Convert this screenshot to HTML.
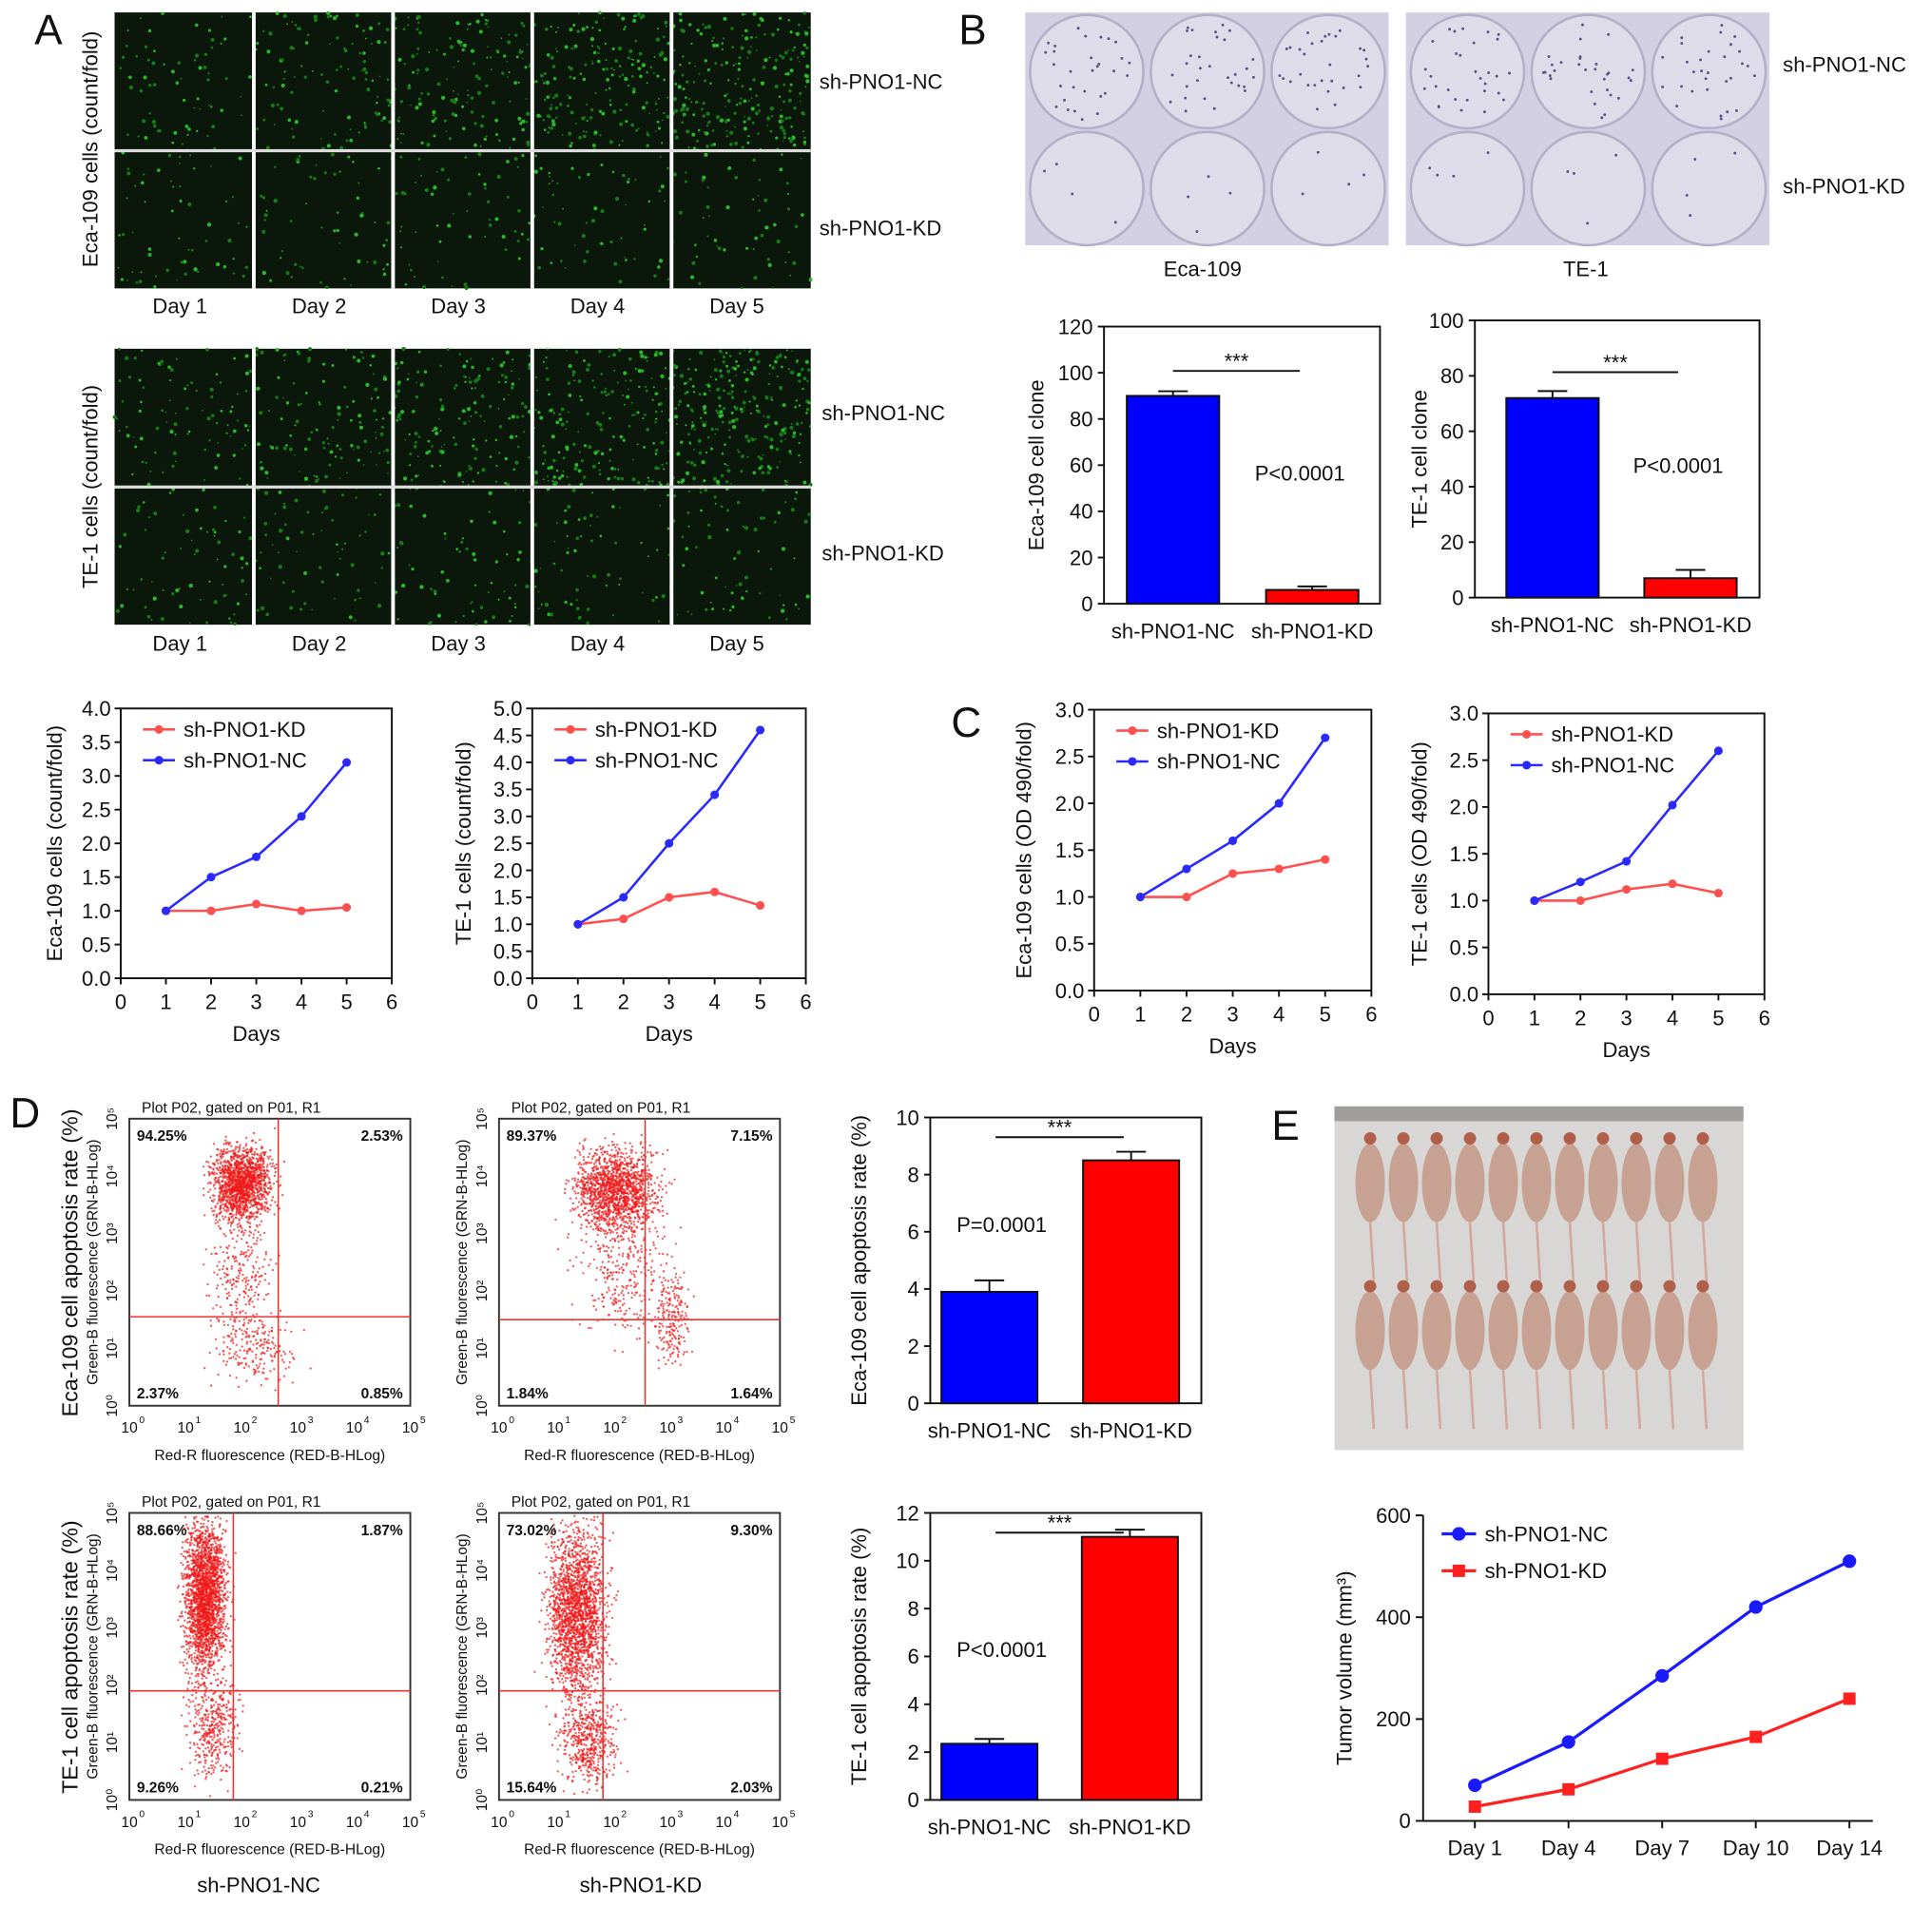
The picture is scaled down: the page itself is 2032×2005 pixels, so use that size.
<!DOCTYPE html>
<html><head><meta charset="utf-8">
<style>
html,body{margin:0;padding:0;background:#fff;}
svg{display:block;font-family:"Liberation Sans",Arial,sans-serif;}
</style></head>
<body>
<svg id="fig" width="2032" height="2005" viewBox="0 0 1568 1547" xmlns="http://www.w3.org/2000/svg"></svg>
<script>
// ---- data arrays ----
const growthDays = [1,2,3,4,5];
const ecaCountKD = [1,1,1.1,1,1.05];
const ecaCountNC = [1,1.5,1.8,2.4,3.2];
const teCountKD = [1,1.1,1.5,1.6,1.35];
const teCountNC = [1,1.5,2.5,3.4,4.6];
const ecaOdKD = [1,1,1.25,1.3,1.4];
const ecaOdNC = [1,1.3,1.6,2.0,2.7];
const teOdKD = [1,1,1.12,1.18,1.08];
const teOdNC = [1,1.2,1.42,2.02,2.6];
const groups = ["sh-PNO1-NC","sh-PNO1-KD"];
const ecaClone = [90,6];
const ecaCloneErr = [2,1.5];
const teClone = [72,7];
const teCloneErr = [2.5,3];
const ecaApop = [3.9,8.5];
const ecaApopErr = [0.4,0.3];
const teApop = [2.35,11];
const teApopErr = [0.2,0.3];
const tumorDays = ["Day 1","Day 4","Day 7","Day 10","Day 14"];
const tumorNC = [70,155,285,420,510];
const tumorKD = [28,62,122,165,240];
const quadEca = [["94.25%","2.53%","2.37%","0.85%"],["89.37%","7.15%","1.84%","1.64%"]];
const quadTe = [["88.66%","1.87%","9.26%","0.21%"],["73.02%","9.30%","15.64%","2.03%"]];

const NS="http://www.w3.org/2000/svg";
const svg=document.getElementById('fig');
function mk(tag,attrs,name,parent){
  const el=document.createElementNS(NS,tag);
  for(const k in attrs) el.setAttribute(k,attrs[k]);
  
  
  (parent||svg).appendChild(el);
  return el;
}
function txt(x,y,s,size,name,extra,parent){
  const a=Object.assign({x:x,y:y,'font-size':size,fill:'#111'},extra||{});
  const t=mk('text',a,name,parent);t.textContent=s;return t;
}
function vtxt(x,y,s,size,name){
  return txt(x,y,s,size,name,{'text-anchor':'middle',transform:`rotate(-90 ${x} ${y})`});
}
let seed=12345;function rnd(){seed=(seed*1103515245+12345)%2147483648;return seed/2147483648;}
function gauss(){return (rnd()+rnd()+rnd()+rnd()-2)/0.8;}

[["A",28,36],["B",778,36],["C",772,598],["D",8,915],["E",1032,925]].forEach(p=>{
  txt(p[1],p[2],p[0],34,'panel-label-'+p[0].toLowerCase());
});

function micro(x0,y0,gname,dens){
  const g=mk('g',{},gname);
  mk('rect',{x:x0,y:y0,width:565,height:224,fill:'#0b170b'},gname+'-bg',g);
  for(let r=0;r<2;r++)for(let c=0;c<5;c++){
    const cx=x0+c*113,cy=y0+r*112;
    const n=dens[r][c];
    for(let i=0;i<n;i++){
      mk('circle',{cx:cx+rnd()*113,cy:cy+rnd()*112,r:0.6+rnd()*1.1,fill:rnd()<0.4?'#28b828':'#167a16'},'cell-dot',g);
    }
  }
  for(let c=1;c<5;c++) mk('rect',{x:x0+c*113-1.5,y:y0,width:3,height:224,fill:'#fff'},'grid-divider',g);
  mk('rect',{x:x0,y:y0+111,width:565,height:2.5,fill:'#ddd'},'grid-divider',g);
}
micro(93,10,'eca-micrographs',[[70,110,150,190,230],[60,60,60,60,60]]);
micro(93,283,'te-micrographs',[[90,120,160,190,260],[70,70,70,70,70]]);
['Day 1','Day 2','Day 3','Day 4','Day 5'].forEach((d,i)=>{
  txt(146+i*113,254,d,17,'day-label',{'text-anchor':'middle'});
  txt(146+i*113,528,d,17,'day-label',{'text-anchor':'middle'});
});
txt(665,72,'sh-PNO1-NC',17,'row-label-nc');txt(665,191,'sh-PNO1-KD',17,'row-label-kd');
txt(667,341,'sh-PNO1-NC',17,'row-label-nc');txt(667,455,'sh-PNO1-KD',17,'row-label-kd');
vtxt(79,121,'Eca-109 cells (count/fold)',17,'y-axis-title');
vtxt(79,395,'TE-1 cells (count/fold)',17,'y-axis-title');

function plate(x0,name){
  const g=mk('g',{},name);
  mk('rect',{x:x0,y:10,width:295,height:189,fill:'#d3d0e3'},name+'-bg',g);
  for(let r=0;r<2;r++)for(let c=0;c<3;c++){
    const cx=x0+50+c*98,cy=58+r*95;
    mk('circle',{cx:cx,cy:cy,r:46,fill:'#dfdcea',stroke:'#b3afc8','stroke-width':2},'well',g);
    const n=r===0?30:4;
    for(let i=0;i<n;i++){const a=rnd()*6.28,rr=Math.sqrt(rnd())*40;
      mk('circle',{cx:cx+rr*Math.cos(a),cy:cy+rr*Math.sin(a),r:1.1,fill:'#5a4d8a'},'colony',g);}
  }
}
plate(832,'eca-plate');plate(1141,'te-plate');
txt(976,224,'Eca-109',17,'plate-label',{'text-anchor':'middle'});
txt(1287,224,'TE-1',17,'plate-label',{'text-anchor':'middle'});
txt(1447,58,'sh-PNO1-NC',17,'row-label-nc');txt(1447,157,'sh-PNO1-KD',17,'row-label-kd');

function barChart(o){
  const g=mk('g',{},o.name);
  const y=v=>o.y1-(v/o.max)*(o.y1-o.y0);
  mk('rect',{x:o.x0,y:o.y0,width:o.x1-o.x0,height:o.y1-o.y0,fill:'none',stroke:'#111','stroke-width':1.5},'plot-frame',g);
  for(let v=0;v<=o.max;v+=o.step){
    mk('line',{x1:o.x0-5,x2:o.x0,y1:y(v),y2:y(v),stroke:'#111','stroke-width':1.5},'y-tick',g);
    txt(o.x0-9,y(v)+6,String(v),17,'y-tick-label',{'text-anchor':'end'},g);
  }
  const cols=['#0000ff','#ff0000'];
  o.vals.forEach((v,i)=>{
    const cx=o.cx[i];
    mk('line',{x1:cx,x2:cx,y1:y(v+o.err[i]),y2:y(v),stroke:'#111','stroke-width':1.5},'error-bar',g);
    mk('line',{x1:cx-12,x2:cx+12,y1:y(v+o.err[i]),y2:y(v+o.err[i]),stroke:'#111','stroke-width':1.5},'error-cap',g);
    mk('rect',{x:cx-o.bw/2,y:y(v),width:o.bw,height:o.y1-y(v),fill:cols[i],stroke:'#111','stroke-width':1.5},'bar-'+(i?'kd':'nc'),g);
    txt(cx,o.y1+28,groups[i],17,'x-tick-label',{'text-anchor':'middle'},g);
  });
  mk('line',{x1:o.sig[0],x2:o.sig[1],y1:o.sig[2],y2:o.sig[2],stroke:'#111','stroke-width':1.5},'significance-line',g);
  txt((o.sig[0]+o.sig[1])/2,o.sig[2]-2,'***',17,'significance-stars',{'text-anchor':'middle'},g);
  txt(o.p[0],o.p[1],o.ptxt,17,'p-value',{'text-anchor':'middle'},g);
  vtxt(o.ylx,(o.y0+o.y1)/2,o.ylabel,17,'y-axis-title');
}
barChart({name:'eca-clone-chart',x0:896,x1:1120,y0:265,y1:490,max:120,step:20,vals:ecaClone,err:ecaCloneErr,cx:[952,1065],bw:75,sig:[952,1055,301],p:[1055,390],ptxt:'P<0.0001',ylabel:'Eca-109 cell clone',ylx:847});
barChart({name:'te-clone-chart',x0:1197,x1:1428,y0:260,y1:485,max:100,step:20,vals:teClone,err:teCloneErr,cx:[1260,1372],bw:75,sig:[1260,1362,302],p:[1362,384],ptxt:'P<0.0001',ylabel:'TE-1 cell clone',ylx:1158});
barChart({name:'eca-apoptosis-chart',x0:755,x1:975,y0:907,y1:1139,max:10,step:2,vals:ecaApop,err:ecaApopErr,cx:[803,918],bw:78,sig:[808,912,923],p:[813,1000],ptxt:'P=0.0001',ylabel:'Eca-109 cell apoptosis rate (%)',ylx:703});
barChart({name:'te-apoptosis-chart',x0:755,x1:975,y0:1228,y1:1461,max:12,step:2,vals:teApop,err:teApopErr,cx:[803,917],bw:78,sig:[808,912,1244],p:[813,1345],ptxt:'P<0.0001',ylabel:'TE-1 cell apoptosis rate (%)',ylx:703});

function lineChart(o){
  const g=mk('g',{},o.name);
  const x=v=>o.x0+v/6*(o.x1-o.x0);
  const y=v=>o.y1-(v/o.max)*(o.y1-o.y0);
  mk('rect',{x:o.x0,y:o.y0,width:o.x1-o.x0,height:o.y1-o.y0,fill:'none',stroke:'#111','stroke-width':1.5},'plot-frame',g);
  for(let v=0;v<=o.max+1e-9;v+=0.5){
    mk('line',{x1:o.x0-5,x2:o.x0,y1:y(v),y2:y(v),stroke:'#111','stroke-width':1.5},'y-tick',g);
    txt(o.x0-8,y(v)+6,v.toFixed(1),17,'y-tick-label',{'text-anchor':'end'},g);
  }
  for(let d=0;d<=6;d++){
    mk('line',{x1:x(d),x2:x(d),y1:o.y1,y2:o.y1+5,stroke:'#111','stroke-width':1.5},'x-tick',g);
    txt(x(d),o.y1+25,String(d),17,'x-tick-label',{'text-anchor':'middle'},g);
  }
  txt((o.x0+o.x1)/2,o.y1+51,'Days',17,'x-axis-title',{'text-anchor':'middle'},g);
  vtxt(o.ylx,(o.y0+o.y1)/2,o.ylabel,17,'y-axis-title');
  [[o.kd,'#ff5050','kd'],[o.nc,'#2a2aff','nc']].forEach(s=>{
    mk('polyline',{points:growthDays.map((d,i)=>x(d)+','+y(s[0][i])).join(' '),fill:'none',stroke:s[1],'stroke-width':2},'line-'+s[2],g);
    growthDays.forEach((d,i)=>mk('circle',{cx:x(d),cy:y(s[0][i]),r:3.5,fill:s[1]},'point-'+s[2],g));
  });
  [['sh-PNO1-KD','#ff5050',0],['sh-PNO1-NC','#2a2aff',1]].forEach(l=>{
    const ly=o.y0+17+l[2]*25;
    mk('line',{x1:o.x0+18,x2:o.x0+44,y1:ly,y2:ly,stroke:l[1],'stroke-width':2},'legend-line',g);
    mk('circle',{cx:o.x0+31,cy:ly,r:3.5,fill:l[1]},'legend-marker',g);
    txt(o.x0+51,ly+6,l[0],17,'legend-entry',{},g);
  });
}
lineChart({name:'eca-count-chart',x0:98,x1:318,y0:575,y1:794,max:4,kd:ecaCountKD,nc:ecaCountNC,ylabel:'Eca-109 cells (count/fold)',ylx:50});
lineChart({name:'te-count-chart',x0:432,x1:654,y0:575,y1:794,max:5,kd:teCountKD,nc:teCountNC,ylabel:'TE-1 cells (count/fold)',ylx:382});
lineChart({name:'eca-od-chart',x0:888,x1:1113,y0:576,y1:804,max:3,kd:ecaOdKD,nc:ecaOdNC,ylabel:'Eca-109 cells (OD 490/fold)',ylx:837});
lineChart({name:'te-od-chart',x0:1208,x1:1432,y0:579,y1:807,max:3,kd:teOdKD,nc:teOdNC,ylabel:'TE-1 cells (OD 490/fold)',ylx:1158});

function flow(x0,y0,name,qs,qx,qy,clouds){
  const g=mk('g',{},name);
  const w=228,h=233;
  txt(x0+10,y0-5,'Plot P02, gated on P01, R1',12,'plot-title',{},g);
  mk('rect',{x:x0,y:y0,width:w,height:h,fill:'#fff',stroke:'#333','stroke-width':1.5},'plot-frame',g);
  clouds.forEach(c=>{for(let i=0;i<c[4];i++){
    const px=x0+c[0]*w+gauss()*c[2]*w, py=y0+c[1]*h+gauss()*c[3]*h;
    if(px>x0+2&&px<x0+w-2&&py>y0+2&&py<y0+h-2) mk('circle',{cx:px,cy:py,r:0.9,fill:'#f01818','fill-opacity':0.7},'event-dot',g);
  }});
  mk('line',{x1:x0+qx*w,x2:x0+qx*w,y1:y0,y2:y0+h,stroke:'#e33','stroke-width':1.2},'quadrant-line-v',g);
  mk('line',{x1:x0,x2:x0+w,y1:y0+qy*h,y2:y0+qy*h,stroke:'#e33','stroke-width':1.2},'quadrant-line-h',g);
  txt(x0+6,y0+18,qs[0],12,'quadrant-ul',{'font-weight':'bold'},g);
  txt(x0+w-6,y0+18,qs[1],12,'quadrant-ur',{'font-weight':'bold','text-anchor':'end'},g);
  txt(x0+6,y0+h-6,qs[2],12,'quadrant-ll',{'font-weight':'bold'},g);
  txt(x0+w-6,y0+h-6,qs[3],12,'quadrant-lr',{'font-weight':'bold','text-anchor':'end'},g);
  for(let k=0;k<=5;k++){
    const tx=x0+k*w/5, ty=y0+h-k*h/5;
    txt(tx,y0+h+22,'10',12,'x-tick-label',{'text-anchor':'middle'},g);
    txt(tx+8,y0+h+14,String(k),8,'x-tick-exp',{},g);
    vtxt(x0-10,ty,'10'+'\u2070\u00b9\u00b2\u00b3\u2074\u2075'[k],12,'y-tick-label');
  }
  txt(x0+w/2,y0+h+44,'Red-R fluorescence (RED-B-HLog)',12,'x-axis-title',{'text-anchor':'middle'},g);
  vtxt(x0-26,y0+h/2,'Green-B fluorescence (GRN-B-HLog)',12,'y-axis-title');
}
flow(105,908,'eca-flow-nc',quadEca[0],0.53,0.69,[[0.4,0.23,0.07,0.09,1500],[0.4,0.55,0.08,0.15,250],[0.45,0.8,0.1,0.08,200]]);
flow(405,908,'eca-flow-kd',quadEca[1],0.52,0.7,[[0.42,0.25,0.1,0.1,1500],[0.45,0.55,0.12,0.15,300],[0.62,0.7,0.04,0.1,200]]);
flow(105,1228,'te-flow-nc',quadTe[0],0.37,0.62,[[0.27,0.3,0.05,0.18,2200],[0.3,0.75,0.06,0.12,400]]);
flow(405,1228,'te-flow-kd',quadTe[1],0.37,0.62,[[0.28,0.35,0.07,0.2,2000],[0.32,0.8,0.07,0.1,500]]);
vtxt(63,1025,'Eca-109 cell apoptosis rate (%)',18,'y-axis-title');
vtxt(63,1345,'TE-1 cell apoptosis rate (%)',18,'y-axis-title');
txt(210,1536,'sh-PNO1-NC',17,'group-label',{'text-anchor':'middle'});
txt(520,1536,'sh-PNO1-KD',17,'group-label',{'text-anchor':'middle'});

(function(){
  const g=mk('g',{},'tumor-photo');
  mk('rect',{x:1083,y:898,width:332,height:279,fill:'#d9d7d5'},'photo-bg',g);
  mk('rect',{x:1083,y:898,width:332,height:12,fill:'#a09e9b'},'ruler',g);
  for(let r=0;r<2;r++)for(let i=0;i<11;i++){
    const cx=1112+i*27,cy=960+r*120;
    mk('ellipse',{cx:cx,cy:cy,rx:12,ry:32,fill:'#c7a192'},'mouse',g);
    mk('circle',{cx:cx,cy:cy-36,r:5,fill:'#b0604a'},'tumor',g);
    mk('line',{x1:cx,x2:cx+3,y1:cy+32,y2:cy+80,stroke:'#d4a89c','stroke-width':2},'tail',g);
  }
})();

(function(){
  const g=mk('g',{},'tumor-volume-chart');
  const x0=1155,x1=1520,y0=1230,y1=1478;
  const x=i=>1197+i*76;
  const y=v=>y1-v/600*(y1-y0);
  mk('line',{x1:x0,x2:x0,y1:y0,y2:y1,stroke:'#111','stroke-width':1.5},'y-axis',g);
  mk('line',{x1:x0,x2:x1,y1:y1,y2:y1,stroke:'#111','stroke-width':1.5},'x-axis',g);
  for(let v=0;v<=600;v+=200){
    mk('line',{x1:x0-6,x2:x0,y1:y(v),y2:y(v),stroke:'#111','stroke-width':1.5},'y-tick',g);
    txt(x0-10,y(v)+6,String(v),17,'y-tick-label',{'text-anchor':'end'},g);
  }
  tumorDays.forEach((d,i)=>{
    mk('line',{x1:x(i),x2:x(i),y1:y1,y2:y1+6,stroke:'#111','stroke-width':1.5},'x-tick',g);
    txt(x(i),y1+28,d,17,'x-tick-label',{'text-anchor':'middle'},g);
  });
  mk('polyline',{points:tumorNC.map((v,i)=>x(i)+','+y(v)).join(' '),fill:'none',stroke:'#1a1aff','stroke-width':2.5},'line-nc',g);
  tumorNC.forEach((v,i)=>mk('circle',{cx:x(i),cy:y(v),r:5.5,fill:'#1a1aff'},'point-nc',g));
  mk('polyline',{points:tumorKD.map((v,i)=>x(i)+','+y(v)).join(' '),fill:'none',stroke:'#ff2020','stroke-width':2.5},'line-kd',g);
  tumorKD.forEach((v,i)=>mk('rect',{x:x(i)-5,y:y(v)-5,width:10,height:10,fill:'#ff2020'},'point-kd',g));
  mk('line',{x1:1170,x2:1198,y1:1245,y2:1245,stroke:'#1a1aff','stroke-width':2.5},'legend-line',g);
  mk('circle',{cx:1184,cy:1245,r:5.5,fill:'#1a1aff'},'legend-marker',g);
  txt(1205,1251,'sh-PNO1-NC',17,'legend-entry',{},g);
  mk('line',{x1:1170,x2:1198,y1:1275,y2:1275,stroke:'#ff2020','stroke-width':2.5},'legend-line',g);
  mk('rect',{x:1179,y:1270,width:10,height:10,fill:'#ff2020'},'legend-marker',g);
  txt(1205,1281,'sh-PNO1-KD',17,'legend-entry',{},g);
  vtxt(1097,1354,'Tumor volume (mm³)',17,'y-axis-title');
})();
</script>
</body></html>
